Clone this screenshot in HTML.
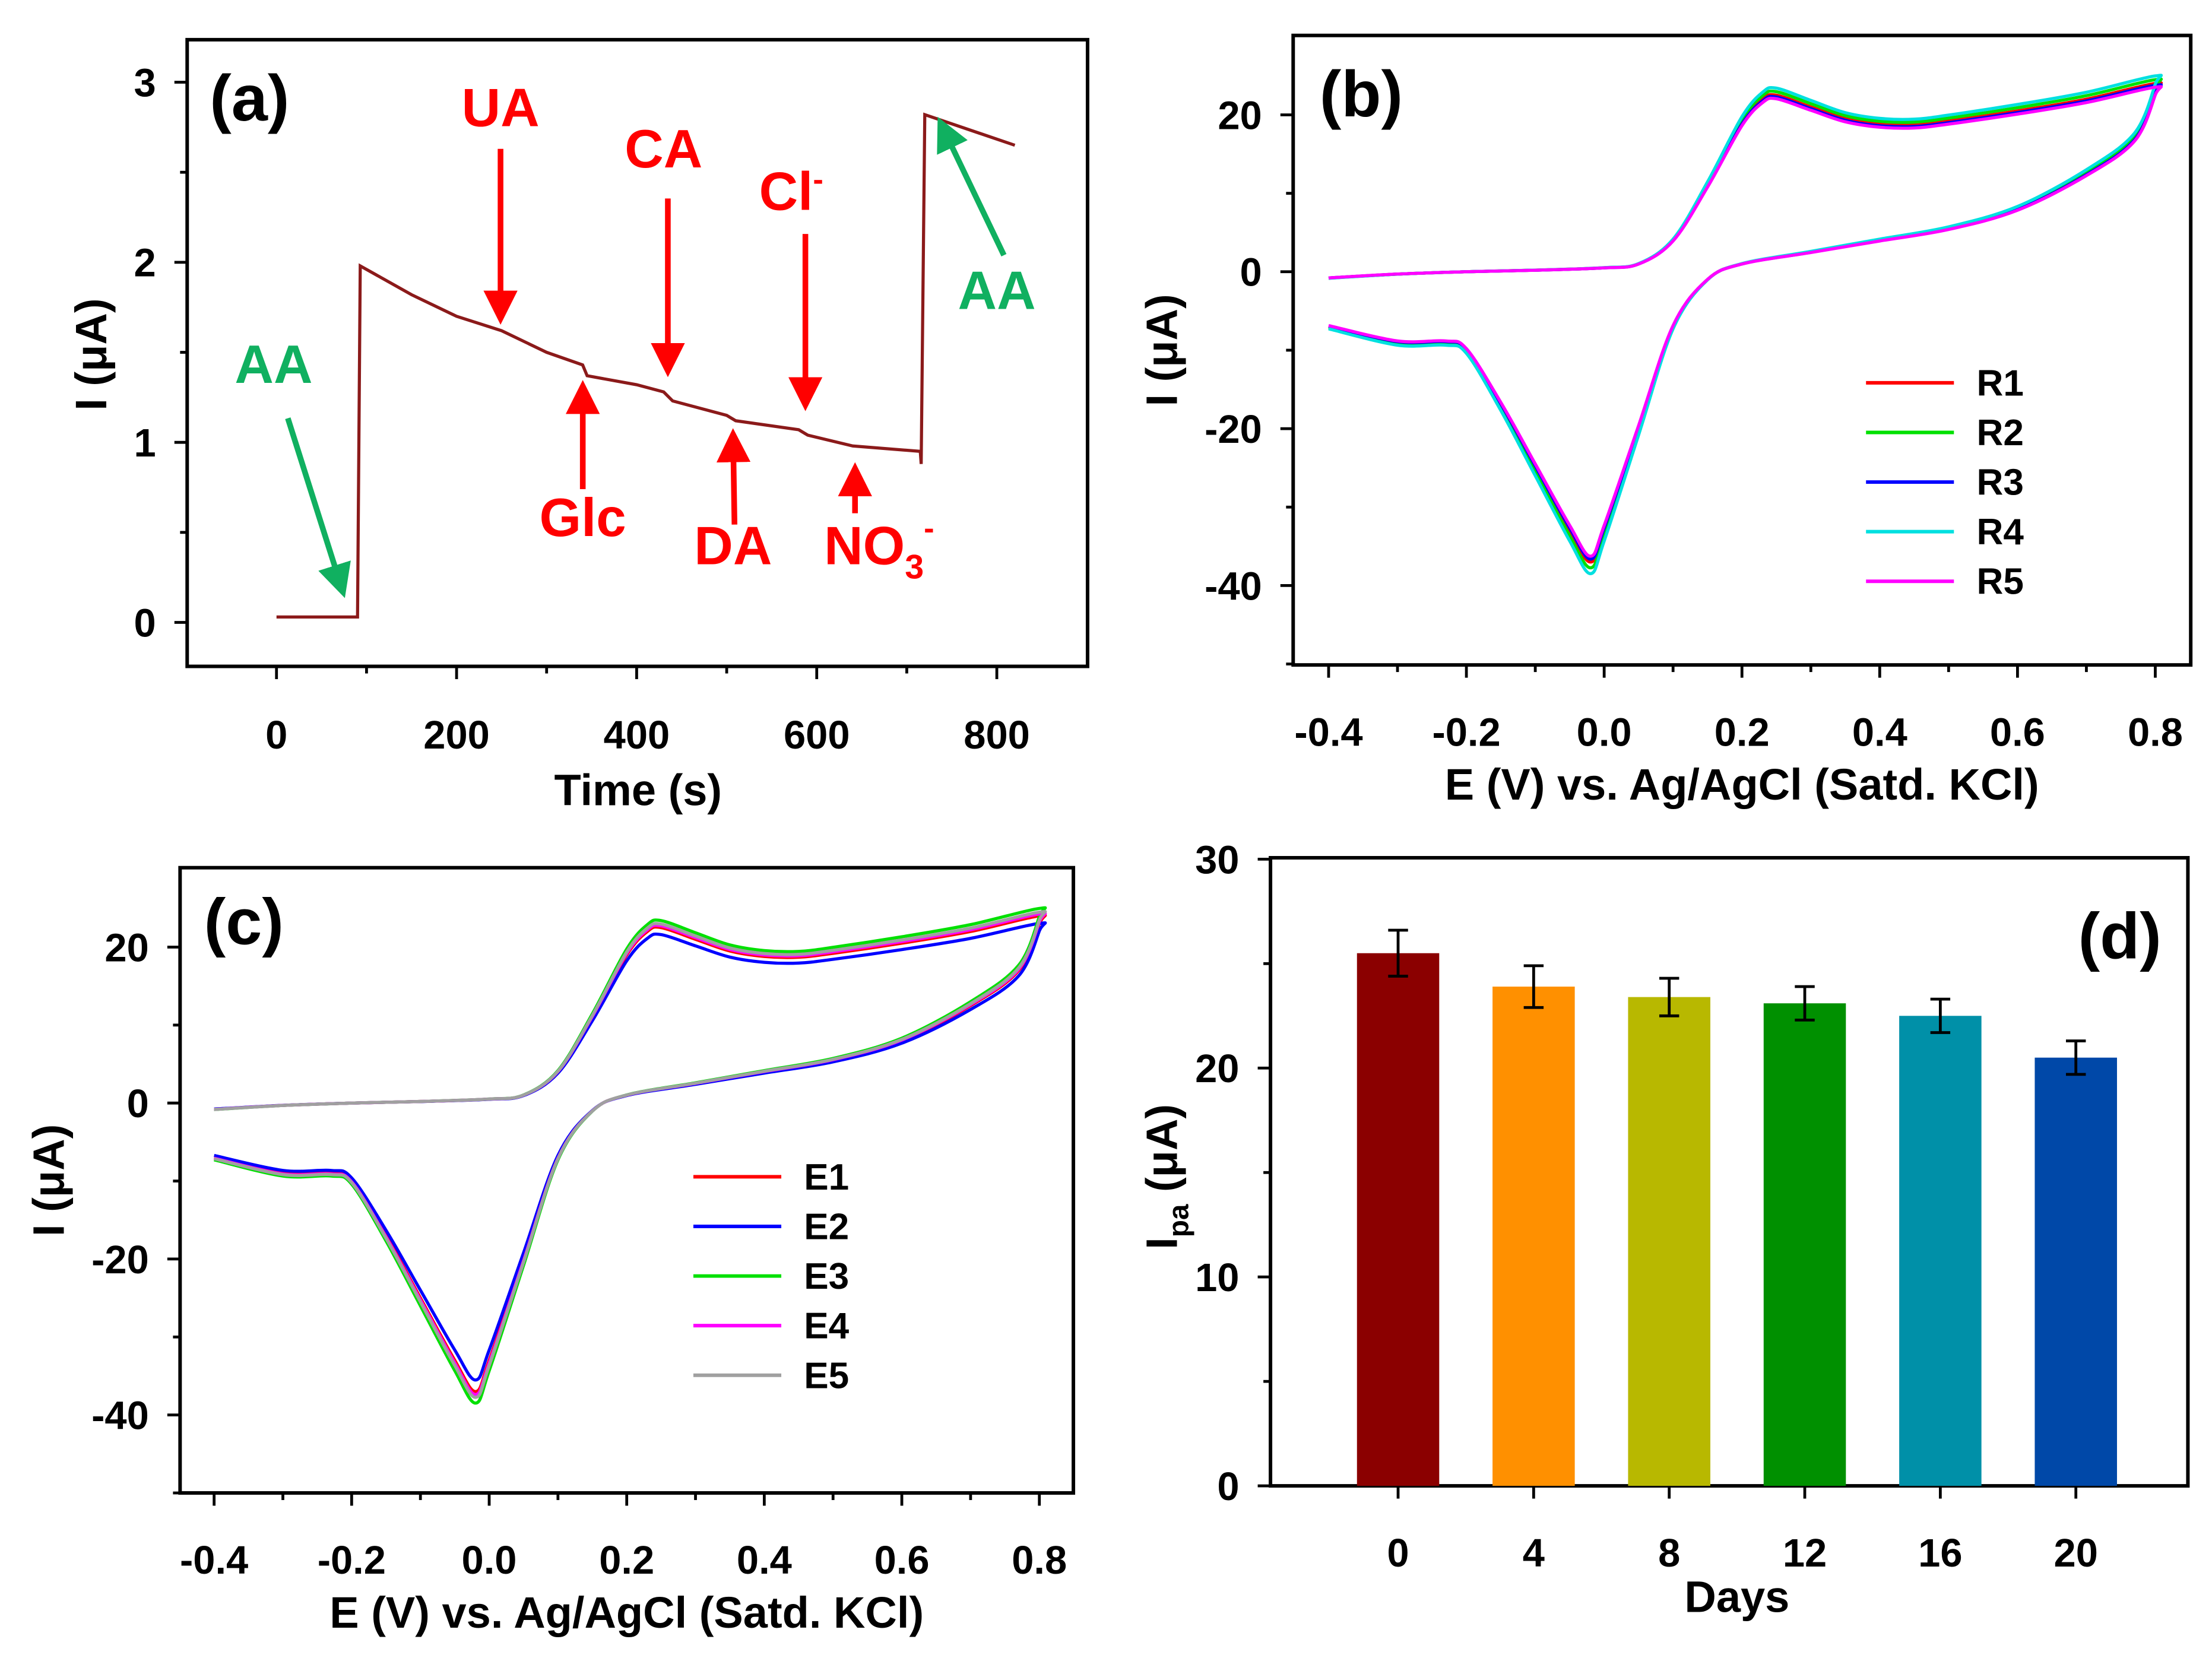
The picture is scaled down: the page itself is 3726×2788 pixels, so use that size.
<!DOCTYPE html>
<html><head><meta charset="utf-8"><style>
html,body{margin:0;padding:0;background:#fff}
svg{display:block}
text{font-family:"Liberation Sans",sans-serif;font-weight:bold}
</style></head><body>
<svg id="fig" xmlns="http://www.w3.org/2000/svg" width="3726" height="2788" viewBox="0 0 1560 1167.3" preserveAspectRatio="none">
<defs>
<marker id="ar" markerWidth="6" markerHeight="6" refX="5" refY="3" orient="auto" markerUnits="strokeWidth"><path d="M0,0 L6,3 L0,6 z" fill="red"/></marker>
<marker id="ag" markerWidth="6" markerHeight="6" refX="5" refY="3" orient="auto" markerUnits="strokeWidth"><path d="M0,0 L6,3 L0,6 z" fill="#10b060"/></marker>
</defs>
<g id="root"></g>
</svg>
<script>
// ---- Panel (a) data ----
const ampTime=[0,90,93,150,200,250,300,340,345,400,430,440,500,510,580,590,640,715,716,720,820];
const ampCurrent=[0.03,0.03,1.98,1.82,1.7,1.62,1.5,1.43,1.37,1.32,1.28,1.23,1.15,1.12,1.07,1.04,0.98,0.95,0.88,2.82,2.65];
const aXTicks=[0,200,400,600,800];
const aYTicks=[0,1,2,3];
// ---- CV data (shared shape) ----
const cvFwdE=[-0.4,-0.3,-0.2,-0.1,0,0.05,0.1,0.15,0.2,0.23,0.25,0.3,0.35,0.4,0.45,0.5,0.6,0.7,0.8];
const cvFwdI=[-0.8,-0.3,0,0.2,0.5,1,4,11,19,22,22.5,21,19.5,18.8,18.7,19.2,20.5,22,24];
const cvRevE=[0.8,0.77,0.7,0.6,0.5,0.4,0.3,0.2,0.15,0.1,0.05,0,-0.02,-0.05,-0.1,-0.15,-0.2,-0.23,-0.3,-0.4];
const cvRevI=[23,17,12.5,8,5.5,4,2.5,1,-1,-7,-20,-33,-37,-33,-25,-17,-10,-9,-9,-7];
const bSeries=["R1","R2","R3","R4","R5"];
const bScale=[1.0,1.02,0.99,1.04,0.98];
const bColors=["#ff0000","#00e000","#0000ff","#00e0e0","#ff00ff"];
const cSeries=["E1","E2","E3","E4","E5"];
const cScale=[1.0,0.96,1.04,1.01,1.02];
const cColors=["#ff0000","#0000ff","#00e000","#ff00ff","#a0a0a0"];
const cvXTicks=[-0.4,-0.2,0.0,0.2,0.4,0.6,0.8];
const cvYTicks=[-40,-20,0,20];
// ---- Panel (d) data ----
const days=["0","4","8","12","16","20"];
const ipa=[25.5,23.9,23.4,23.1,22.5,20.5];
const ipaErr=[1.1,1.0,0.9,0.8,0.8,0.8];
const barColors=["#8b0000","#ff9000","#b8b800","#009000","#0090a8","#0048a8"];
const dYTicks=[0,10,20,30];

const NS="http://www.w3.org/2000/svg";
const root=document.getElementById('root');
const FS=28;
function el(tag,attrs,parent,txt){const e=document.createElementNS(NS,tag);for(const k in attrs)e.setAttribute(k,attrs[k]);if(txt!==undefined)e.textContent=txt;(parent||root).appendChild(e);return e;}
function lin(d0,d1,r0,r1){return v=>r0+(v-d0)*(r1-r0)/(d1-d0);}
function smooth(pts){let d='M'+pts[0][0]+','+pts[0][1];
for(let i=0;i<pts.length-1;i++){const p0=pts[Math.max(0,i-1)],p1=pts[i],p2=pts[i+1],p3=pts[Math.min(pts.length-1,i+2)];
const c1=[p1[0]+(p2[0]-p0[0])/6,p1[1]+(p2[1]-p0[1])/6],c2=[p2[0]-(p3[0]-p1[0])/6,p2[1]-(p3[1]-p1[1])/6];
d+=` C${c1[0]},${c1[1]} ${c2[0]},${c2[1]} ${p2[0]},${p2[1]}`;}return d;}
function box(x0,y0,x1,y1,name){const r=el('rect',{x:x0,y:y0,width:x1-x0,height:y1-y0,fill:'none',stroke:'#000','stroke-width':2.5});

}
function xTicks(ticks,sx,yb,fmt,minor,name,off){const g=el('g',{});


ticks.forEach(t=>{el('line',{x1:sx(t),x2:sx(t),y1:yb,y2:yb+9,stroke:'#000','stroke-width':2},g);el('text',{x:sx(t),y:yb+(off||58),'font-size':FS,'text-anchor':'middle'},g,fmt(t));});
minor.forEach(t=>el('line',{x1:sx(t),x2:sx(t),y1:yb,y2:yb+5,stroke:'#000','stroke-width':2},g));}
function yTicks(ticks,sy,xl,fmt,minor,name){const g=el('g',{});


ticks.forEach(t=>{el('line',{x1:xl-9,x2:xl,y1:sy(t),y2:sy(t),stroke:'#000','stroke-width':2},g);el('text',{x:xl-22,y:sy(t)+10,'font-size':FS,'text-anchor':'end'},g,fmt(t));});
minor.forEach(t=>el('line',{x1:xl-5,x2:xl,y1:sy(t),y2:sy(t),stroke:'#000','stroke-width':2},g));}
function label(x,y,s,size,name,rot){const t=el('text',{x:x,y:y,'font-size':size,'text-anchor':'middle',transform:rot?`rotate(-90 ${x} ${y})`:''},root,s);

return t;}

// ===== Panel (a) =====
{const sx=lin(0,800,195,703), sy=lin(0,3,439,58);
box(132,28,767,470,'panel-a-frame');
xTicks(aXTicks,sx,470,v=>v,[-100,100,300,500,700].filter(v=>sx(v)>132&&sx(v)<767),'panel-a-x-ticks');
yTicks(aYTicks,sy,132,v=>v,[0.5,1.5,2.5],'panel-a-y-ticks');
let d=ampTime.map((t,i)=>(i?'L':'M')+sx(t)+','+sy(ampCurrent[i])).join(' ');
const p=el('path',{d:d,fill:'none',stroke:'#8b1a1a','stroke-width':2.2});


label(450,568,'Time (s)',31,'panel-a-x-title');
label(75,250,'I (μA)',31,'panel-a-y-title',true);
label(176,85,'(a)',46,'panel-a-label');
const ann=[['UA',353,89,353,105,353,225,'red'],['CA',468,118,471,140,471,262,'red'],['Glc',411,378,411,345,411,272,'red'],['DA',517,398,518,370,517,306,'red'],['AA',193,270,203,295,242,418,'#10b060'],['AA',703,218,708,180,663,86,'#10b060']];
ann.forEach(a=>{const t=label(a[1],a[2],a[0],38,'annotation-'+a[0].toLowerCase());t.setAttribute('fill',a[7]);
const l=el('line',{x1:a[3],y1:a[4],x2:a[5],y2:a[6],stroke:a[7],'stroke-width':4,'marker-end':a[7]=='red'?'url(#ar)':'url(#ag)'});

});
const cl=el('text',{x:558,y:148,'font-size':38,'text-anchor':'middle',fill:'red'},root);cl.innerHTML='Cl<tspan font-size="22" dy="-14">-</tspan>';


const cll=el('line',{x1:568,y1:165,x2:568,y2:286,stroke:'red','stroke-width':4,'marker-end':'url(#ar)'});


const no=el('text',{x:620,y:398,'font-size':38,'text-anchor':'middle',fill:'red'},root);no.innerHTML='NO<tspan font-size="24" dy="10">3</tspan><tspan font-size="22" dy="-28">-</tspan>';


const nol=el('line',{x1:603,y1:362,x2:603,y2:330,stroke:'red','stroke-width':4,'marker-end':'url(#ar)'});

}

// ===== CV panels =====
function cvPanel(x0,y0,x1,y1,sx,sy,names,scales,colors,pl,lx,ly,pfx){
box(x0,y0,x1,y1,pfx+'-frame');
xTicks(cvXTicks,sx,y1,v=>v.toFixed(1),[-0.3,-0.1,0.1,0.3,0.5,0.7],pfx+'-x-ticks',57);
yTicks(cvYTicks,sy,x0,v=>v,[-50,-30,-10,10],pfx+'-y-ticks');
names.forEach((n,k)=>{const s=scales[k];
const pts=cvFwdE.map((e,i)=>[sx(e),sy(cvFwdI[i]*s)]).concat(cvRevE.map((e,i)=>[sx(e),sy(cvRevI[i]*s)]));
const p=el('path',{d:smooth(pts),fill:'none',stroke:colors[k],'stroke-width':2.2});


const g=el('g',{});


el('line',{x1:lx,x2:lx+62,y1:ly+k*35,y2:ly+k*35,stroke:colors[k],'stroke-width':2.5},g);
el('text',{x:lx+78,y:ly+k*35+9,'font-size':26},g,n);});
label((x0+x1)/2,y1+95,'E (V) vs. Ag/AgCl (Satd. KCl)',31,pfx+'-x-title');
label(x0-82,(y0+y1)/2,'I (μA)',31,pfx+'-y-title',true);
label(pl[0],pl[1],pl[2],46,pfx+'-label');}
cvPanel(912,25,1545,469,lin(-0.4,0.8,937,1520),lin(-40,20,413,81),bSeries,bScale,bColors,[960,82,'(b)'],1316,270,'panel-b');
cvPanel(127,612,757,1053,lin(-0.4,0.8,151,733),lin(-40,20,998,668),cSeries,cScale,cColors,[172,666,'(c)'],489,830,'panel-c');

// ===== Panel (d) =====
{const x0=896,x1=1543,y0=605,y1=1048;const sy=lin(0,30,1048,606);
box(x0,y0,x1,y1,'panel-d-frame');
yTicks(dYTicks,sy,x0,v=>v,[5,15,25],'panel-d-y-ticks');
const sx=i=>986+i*95.6;
days.forEach((dname,i)=>{const cx=sx(i);
const r=el('rect',{x:cx-29,y:sy(ipa[i]),width:58,height:sy(0)-sy(ipa[i]),fill:barColors[i]});


const e=el('path',{d:`M${cx},${sy(ipa[i]-ipaErr[i])}V${sy(ipa[i]+ipaErr[i])}M${cx-7},${sy(ipa[i]+ipaErr[i])}H${cx+7}M${cx-7},${sy(ipa[i]-ipaErr[i])}H${cx+7}`,stroke:'#000','stroke-width':2,fill:'none'});


el('line',{x1:cx,x2:cx,y1:y1,y2:y1+9,stroke:'#000','stroke-width':2});
const t=el('text',{x:cx,y:y1+57,'font-size':FS,'text-anchor':'middle'},root,dname);

});
label(1225,1137,'Days',31,'panel-d-x-title');
const yt=el('text',{x:830,y:830,'font-size':31,'text-anchor':'middle',transform:'rotate(-90 830 830)'},root);
yt.innerHTML='I<tspan font-size="20" dy="8">pa</tspan><tspan dy="-8"> (μA)</tspan>';


label(1495,676,'(d)',46,'panel-d-label');}
</script>
</body></html>
